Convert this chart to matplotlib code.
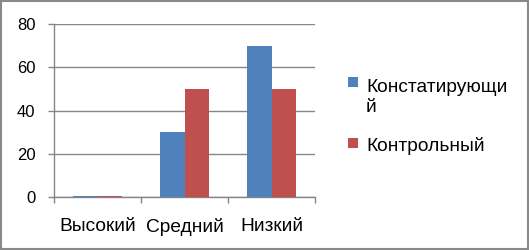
import matplotlib
matplotlib.use("Agg")
import matplotlib.pyplot as plt
import numpy as np
from matplotlib.patches import Rectangle

categories = ["Высокий", "Средний", "Низкий"]
series_names = ["Констатирующи\nй", "Контрольный"]
series_colors = ['#4F81BD', '#C0504D']
konst = [0.5, 30, 70]
kontr = [0.5, 50, 50]
yticks = [0, 20, 40, 60, 80]

plt.rcParams['font.family'] = ['Liberation Sans', 'DejaVu Sans']
FS = 13.8
FSY = 12

fig = plt.figure(figsize=(5.29, 2.5), dpi=100)
ax = fig.add_axes([54/529, 1-197/250, (315-54)/529, (197-24)/250])

x = np.arange(len(categories))
w = 1/3.5
grid_c = '#868686'
b1 = ax.bar(x - w/2, konst, w, color=series_colors[0], zorder=3)
b2 = ax.bar(x + w/2, kontr, w, color=series_colors[1], zorder=3)

ax.set_xlim(-0.5, 2.5)
ax.set_ylim(0, 80)
ax.set_yticks(yticks)
ax.set_yticklabels([str(v) for v in yticks], fontsize=FSY)
ax.yaxis.grid(True, color=grid_c, linewidth=1, zorder=0)
ax.set_axisbelow(True)

ax.set_xticks([-0.5, 0.5, 1.5, 2.5])
ax.set_xticklabels([])
ax.set_xticks(x, minor=True)
ax.set_xticklabels(categories, minor=True, fontsize=FS)
ax.tick_params(axis='x', which='major', length=4.3, color=grid_c, width=1)
ax.tick_params(axis='x', which='minor', length=0, pad=15)
ax.tick_params(axis='y', length=4.3, color=grid_c, width=1, pad=9)

for s in ['top', 'right']:
    ax.spines[s].set_visible(False)
for s in ['left', 'bottom']:
    ax.spines[s].set_color(grid_c)
    ax.spines[s].set_linewidth(1)

# manual legend (marker aligned with first text line; text baseline = last line)
leg_x = 348/529
marker_tops = [77, 138]
last_baselines = [112, 151]
for name, col, mt, bl in zip(series_names, series_colors, marker_tops, last_baselines):
    fig.patches.append(Rectangle((leg_x, 1 - (mt + 10)/250), 10/529, 10/250,
                                 transform=fig.transFigure, facecolor=col, edgecolor='none'))
    fig.text(366/529, 1 - bl/250, name, fontsize=FS, ha='left', va='baseline', linespacing=1.25)

fig.patches.append(Rectangle((0.75/529, 0.75/250), 1-1.5/529, 1-1.5/250, transform=fig.transFigure,
                             fill=False, edgecolor='#898989', linewidth=1.5))

fig.savefig("out.png", dpi=100)
